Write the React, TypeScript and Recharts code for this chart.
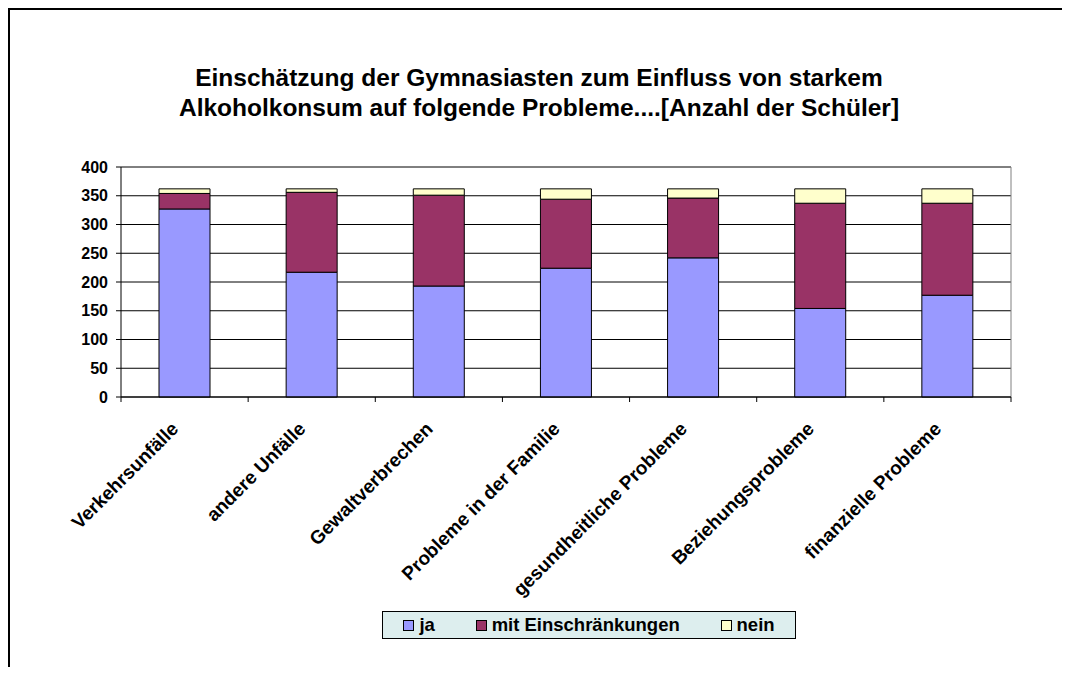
import React from 'react';
import { BarChart, Bar, XAxis, YAxis, CartesianGrid, ReferenceLine } from 'recharts';

const categories = [
  'Verkehrsunfälle',
  'andere Unfälle',
  'Gewaltverbrechen',
  'Probleme in der Familie',
  'gesundheitliche Probleme',
  'Beziehungsprobleme',
  'finanzielle Probleme',
];
const jaValues = [327, 217, 193, 224, 242, 154, 177];
const mitValues = [27, 139, 158, 120, 104, 183, 160];
const neinValues = [8, 6, 11, 18, 16, 25, 25];
const yTicks = [0, 50, 100, 150, 200, 250, 300, 350, 400];

const seriesNames = ['ja', 'mit Einschränkungen', 'nein'];
const seriesKeys = ['ja', 'mit', 'nein'];
const seriesColors = ['#9999FF', '#993366', '#FFFFCC'];

const data = categories.map((name, i) => ({
  name,
  ja: jaValues[i],
  mit: mitValues[i],
  nein: neinValues[i],
}));

const FONT = '"Liberation Sans", Arial, sans-serif';

const XTick = (props: any) => {
  const { x, y, payload, index, visibleTicksCount, width } = props;
  const half =
    payload && typeof payload.offset === 'number' && payload.offset > 0
      ? payload.offset
      : width / (visibleTicksCount || 7) / 2;
  const isLast = index === (visibleTicksCount || 7) - 1;
  return (
    <g transform={`translate(${x},${y})`}>
      <line x1={-half} y1={0} x2={-half} y2={5} stroke="#000" />
      {isLast && <line x1={half} y1={0} x2={half} y2={5} stroke="#000" />}
      <text
        x={-5}
        y={33}
        transform="rotate(-45 -5 33)"
        textAnchor="end"
        fontFamily={FONT}
        fontWeight="bold"
        fontSize={19}
        fill="#000"
      >
        {payload.value}
      </text>
    </g>
  );
};

export default function App() {
  return (
    <div
      style={{
        position: 'relative',
        width: 1052,
        height: 657,
        borderLeft: '2px solid #000',
        borderTop: '2px solid #000',
        background: '#fff',
        fontFamily: FONT,
      }}
    >
      <div
        style={{
          position: 'absolute',
          left: 0,
          top: 53,
          width: 1058,
          textAlign: 'center',
          fontWeight: 'bold',
          fontSize: 24.5,
          lineHeight: '30px',
          color: '#000',
        }}
      >
        Einschätzung der Gymnasiasten zum Einfluss von starkem
        <br />
        Alkoholkonsum auf folgende Probleme....[Anzahl der Schüler]
      </div>
      <BarChart
        width={1052}
        height={657}
        data={data}
        margin={{ top: 157, right: 51, bottom: 0, left: 51 }}
        barSize={51}
      >
        <CartesianGrid vertical={false} stroke="#000" />
        <XAxis
          dataKey="name"
          height={270}
          interval={0}
          tickSize={0}
          tickMargin={0}
          tickLine={false}
          axisLine={{ stroke: '#000' }}
          tick={<XTick />}
        />
        <YAxis
          width={60}
          domain={[0, 400]}
          ticks={yTicks}
          interval={0}
          tickSize={5}
          tickMargin={8}
          axisLine={{ stroke: '#000' }}
          tickLine={{ stroke: '#000' }}
          tick={{ fill: '#000', fontSize: 16, fontWeight: 'bold', fontFamily: FONT }}
        />
        <ReferenceLine y={400} stroke="#808080" />
        <ReferenceLine x={categories[categories.length - 1]} position="end" stroke="#808080" />
        {seriesKeys.map((k, i) => (
          <Bar
            key={k}
            dataKey={k}
            name={seriesNames[i]}
            stackId="a"
            fill={seriesColors[i]}
            stroke="#000"
            strokeWidth={1}
            isAnimationActive={false}
          />
        ))}
      </BarChart>
      <div
        style={{
          position: 'absolute',
          left: 372,
          top: 601,
          width: 414,
          height: 28,
          boxSizing: 'border-box',
          border: '1px solid #000',
          background: '#DDEEEE',
          display: 'flex',
          alignItems: 'center',
          justifyContent: 'space-around',
        }}
      >
        {seriesNames.map((n, i) => (
          <div key={n} style={{ display: 'flex', alignItems: 'center' }}>
            <span
              style={{
                display: 'inline-block',
                width: 9,
                height: 9,
                border: '1px solid #000',
                background: seriesColors[i],
                marginRight: 5,
              }}
            />
            <span style={{ fontWeight: 'bold', fontSize: 18.5, color: '#000' }}>{n}</span>
          </div>
        ))}
      </div>
    </div>
  );
}
